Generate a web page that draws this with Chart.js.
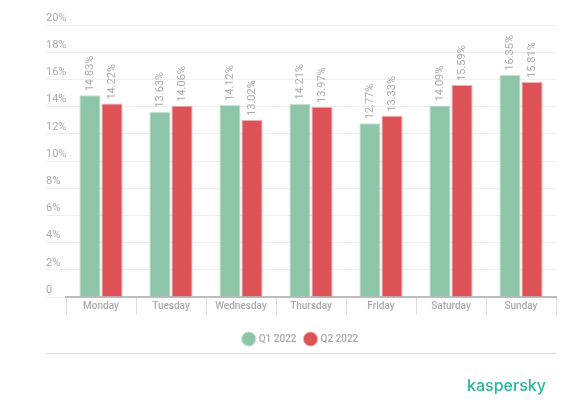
<!DOCTYPE html>
<html>
<head>
<meta charset="utf-8">
<script src="https://cdn.jsdelivr.net/npm/chart.js@4/dist/chart.umd.min.js"></script>
<style>
    html, body { margin: 0; padding: 0; background: #fff; }
    #wrap { position: relative; width: 573px; height: 414px; }
    #logo {
        position: absolute; left: 467px; top: 375px;
        font-family: Inter, "Open Sans", sans-serif; font-size: 16px; font-weight: 500;
        color: #25b798;
    }
</style>
</head>
<body>
<div id="wrap">
    <canvas id="dayChart" width="573" height="414"></canvas>
    <div id="logo">kaspersky</div>
</div>
<script>
const days = ['Monday', 'Tuesday', 'Wednesday', 'Thursday', 'Friday', 'Saturday', 'Sunday'];
const q1Values = [14.83, 13.63, 14.12, 14.21, 12.77, 14.09, 16.35];
const q2Values = [14.22, 14.06, 13.02, 13.97, 13.33, 15.59, 15.81];
const seriesNames = ['Q1 2022', 'Q2 2022'];

const grayText = '#ababab';

// value labels drawn vertically above each bar
const barLabels = {
    id: 'barLabels',
    afterDatasetsDraw(chart) {
        const ctx = chart.ctx;
        ctx.save();
        ctx.font = '11px Roboto';
        ctx.fillStyle = grayText;
        ctx.textAlign = 'left';
        ctx.textBaseline = 'middle';
        chart.data.datasets.forEach((ds, i) => {
            chart.getDatasetMeta(i).data.forEach((bar, j) => {
                ctx.save();
                ctx.translate(bar.x, bar.y - 4);
                ctx.rotate(-Math.PI / 2);
                ctx.fillText(ds.data[j].toFixed(2) + '%', 0, 0);
                ctx.restore();
            });
        });
        ctx.restore();
    }
};

// thin separator line under the legend
const separator = {
    id: 'separator',
    afterDraw(chart) {
        const ctx = chart.ctx;
        ctx.save();
        ctx.strokeStyle = '#dddddd';
        ctx.lineWidth = 1;
        ctx.beginPath();
        ctx.moveTo(46, 353.5);
        ctx.lineTo(556, 353.5);
        ctx.stroke();
        ctx.restore();
    }
};

const ctxDay = document.getElementById('dayChart').getContext('2d');
const dayChart = new Chart(ctxDay, {
    type: 'bar',
    data: {
        labels: days,
        datasets: [{
            label: seriesNames[0],
            data: q1Values,
            backgroundColor: '#8ec4a7',
            borderColor: '#c6e2d3',
            borderWidth: 1,
            categoryPercentage: 0.63,
            barPercentage: 0.96
        }, {
            label: seriesNames[1],
            data: q2Values,
            backgroundColor: '#dc5256',
            borderColor: '#efaeb0',
            borderWidth: 1,
            categoryPercentage: 0.63,
            barPercentage: 0.96
        }]
    },
    options: {
        responsive: false,
        animation: false,
        layout: {
            padding: { left: 46, right: 17, top: 25, bottom: 60 }
        },
        scales: {
            x: {
                grid: {
                    drawOnChartArea: false,
                    tickLength: 18,
                    tickColor: '#dddddd'
                },
                border: { color: '#bdbdbd', width: 2 },
                ticks: {
                    color: grayText,
                    font: { family: 'Roboto', size: 10, weight: 500 },
                    padding: -15
                },
                afterFit(scale) { scale.height += 28; }
            },
            y: {
                min: 0,
                max: 20,
                border: { display: false },
                grid: {
                    color: '#eeeeee',
                    tickLength: 20,
                    tickColor: '#eeeeee'
                },
                ticks: {
                    stepSize: 2,
                    crossAlign: 'far',
                    labelOffset: -7,
                    color: grayText,
                    font: { family: 'Roboto', size: 11 },
                    callback: v => v === 0 ? '0' : v + '%'
                },
                afterFit(scale) { scale.width = 20; }
            }
        },
        plugins: {
            tooltip: { enabled: false },
            legend: {
                position: 'bottom',
                labels: {
                    usePointStyle: true,
                    pointStyle: 'circle',
                    boxHeight: 12,
                    boxWidth: 12,
                    padding: 9,
                    color: grayText,
                    font: { family: 'Roboto', size: 10, weight: 500 }
                }
            }
        }
    },
    plugins: [barLabels, separator]
});
</script>
</body>
</html>
